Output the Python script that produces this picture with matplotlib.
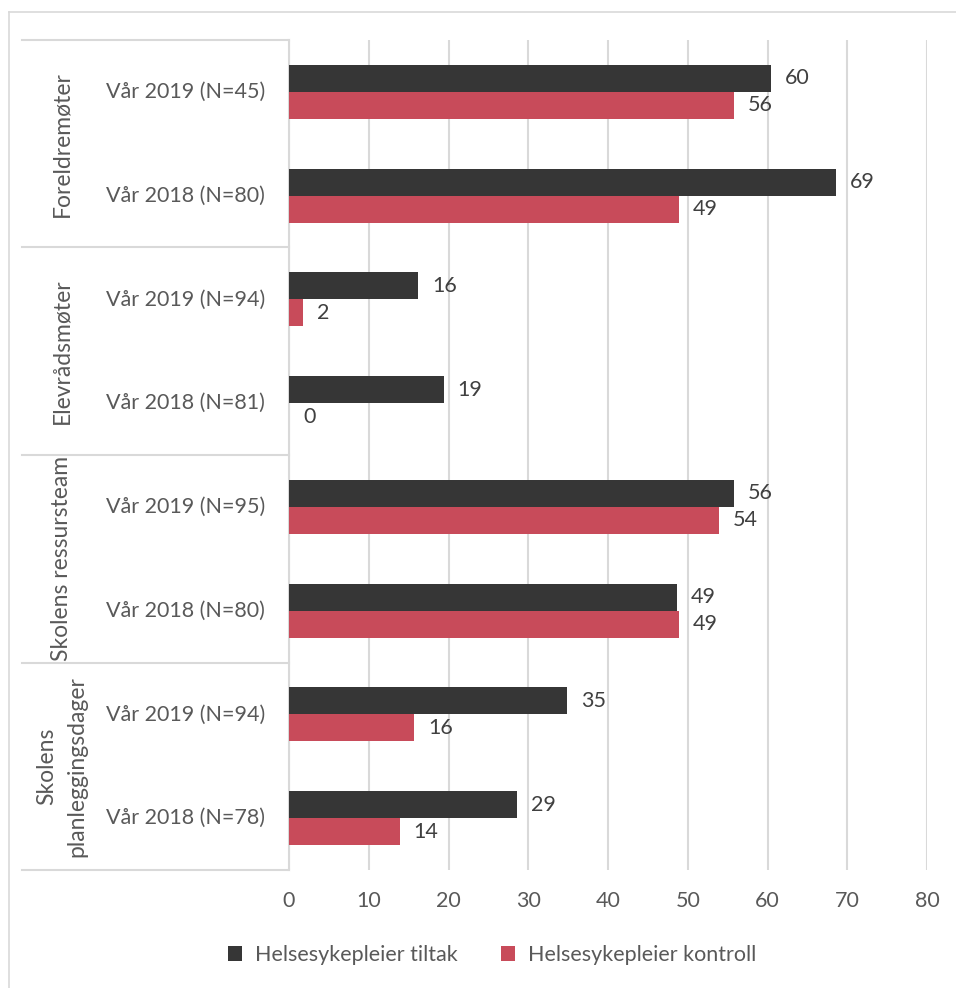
import numpy as np
import matplotlib.pyplot as plt
from matplotlib.lines import Line2D

plt.rcParams['font.family'] = ['Lato', 'DejaVu Sans']

groups = ['Foreldremøter', 'Elevrådsmøter', 'Skolens ressursteam', 'Skolens\nplanleggingsdager']
rows = ['Vår 2019 (N=45)', 'Vår 2018 (N=80)',
        'Vår 2019 (N=94)', 'Vår 2018 (N=81)',
        'Vår 2019 (N=95)', 'Vår 2018 (N=80)',
        'Vår 2019 (N=94)', 'Vår 2018 (N=78)']
tiltak = [60.4, 68.6, 16.2, 19.4, 55.8, 48.6, 34.9, 28.6]
kontroll = [55.8, 48.9, 1.8, 0.0, 53.9, 48.9, 15.7, 13.9]
series_names = ['Helsesykepleier tiltak', 'Helsesykepleier kontroll']

c_dark = '#363636'
c_red = '#C84B5A'
c_grid = '#D9D9D9'
c_text = '#595959'

W, H = 956, 988
fig = plt.figure(figsize=(W / 100, H / 100), dpi=100)

x0, x1, y0, y1 = 289, 927, 40, 870
ax = fig.add_axes([x0 / W, 1 - y1 / H, (x1 - x0) / W, (y1 - y0) / H])

n = len(rows)
centers = np.arange(n) + 0.5
h = 0.26
ax.barh(centers - h / 2, tiltak, height=h, color=c_dark, label=series_names[0], zorder=3)
ax.barh(centers + h / 2, kontroll, height=h, color=c_red, label=series_names[1], zorder=3)

ax.set_xlim(0, 80)
ax.set_ylim(n, 0)
ax.set_xticks(range(0, 81, 10))
ax.set_yticks([])
ax.grid(axis='x', color=c_grid, linewidth=1.5, zorder=0)
for s in ['top', 'right', 'bottom']:
    ax.spines[s].set_visible(False)
ax.spines['left'].set_color(c_grid)
ax.spines['left'].set_linewidth(1.5)
ax.tick_params(axis='x', length=0, pad=15, labelsize=15.5, labelcolor=c_text)

# data labels
for yc, vt, vk in zip(centers, tiltak, kontroll):
    ax.annotate(f'{vt:.0f}', (vt, yc - h / 2), xytext=(10, 0), textcoords='offset points',
                va='center', ha='left', fontsize=15.5, color='#404040')
    ax.annotate(f'{vk:.0f}', (vk, yc + h / 2), xytext=(10, 0), textcoords='offset points',
                va='center', ha='left', fontsize=15.5, color='#404040')

# category labels
tr = ax.get_yaxis_transform()
axw = x1 - x0
for yc, lab in zip(centers, rows):
    ax.text((265 - x0) / axw, yc, lab, transform=tr, ha='right', va='center',
            fontsize=15.5, color=c_text)
for i, g in enumerate(groups):
    ax.text((62 - x0) / axw, 2 * i + 1, g, transform=tr, ha='center', va='center',
            rotation=90, fontsize=16.5, color=c_text, linespacing=1.55)
for yb in range(0, n + 1, 2):
    ax.add_line(Line2D([(22 - x0) / axw, 0], [yb, yb], transform=tr, color=c_grid,
                       linewidth=1.5, clip_on=False))

# legend
fig.legend(loc='center', bbox_to_anchor=(492 / W, 1 - 955 / H), ncol=2, frameon=False,
           fontsize=15.5, labelcolor=c_text, handlelength=0.65, handleheight=0.65,
           handletextpad=0.6, columnspacing=2.0)

# outer frame (left and top edges only visible)
fig.add_artist(Line2D([8.5 / W, 8.5 / W], [0, 1 - 12.5 / H], transform=fig.transFigure,
                      color=c_grid, linewidth=1.2))
fig.add_artist(Line2D([8.5 / W, 1], [1 - 12.5 / H, 1 - 12.5 / H], transform=fig.transFigure,
                      color=c_grid, linewidth=1.2))

fig.savefig('out.png', dpi=100)
plt.close(fig)
